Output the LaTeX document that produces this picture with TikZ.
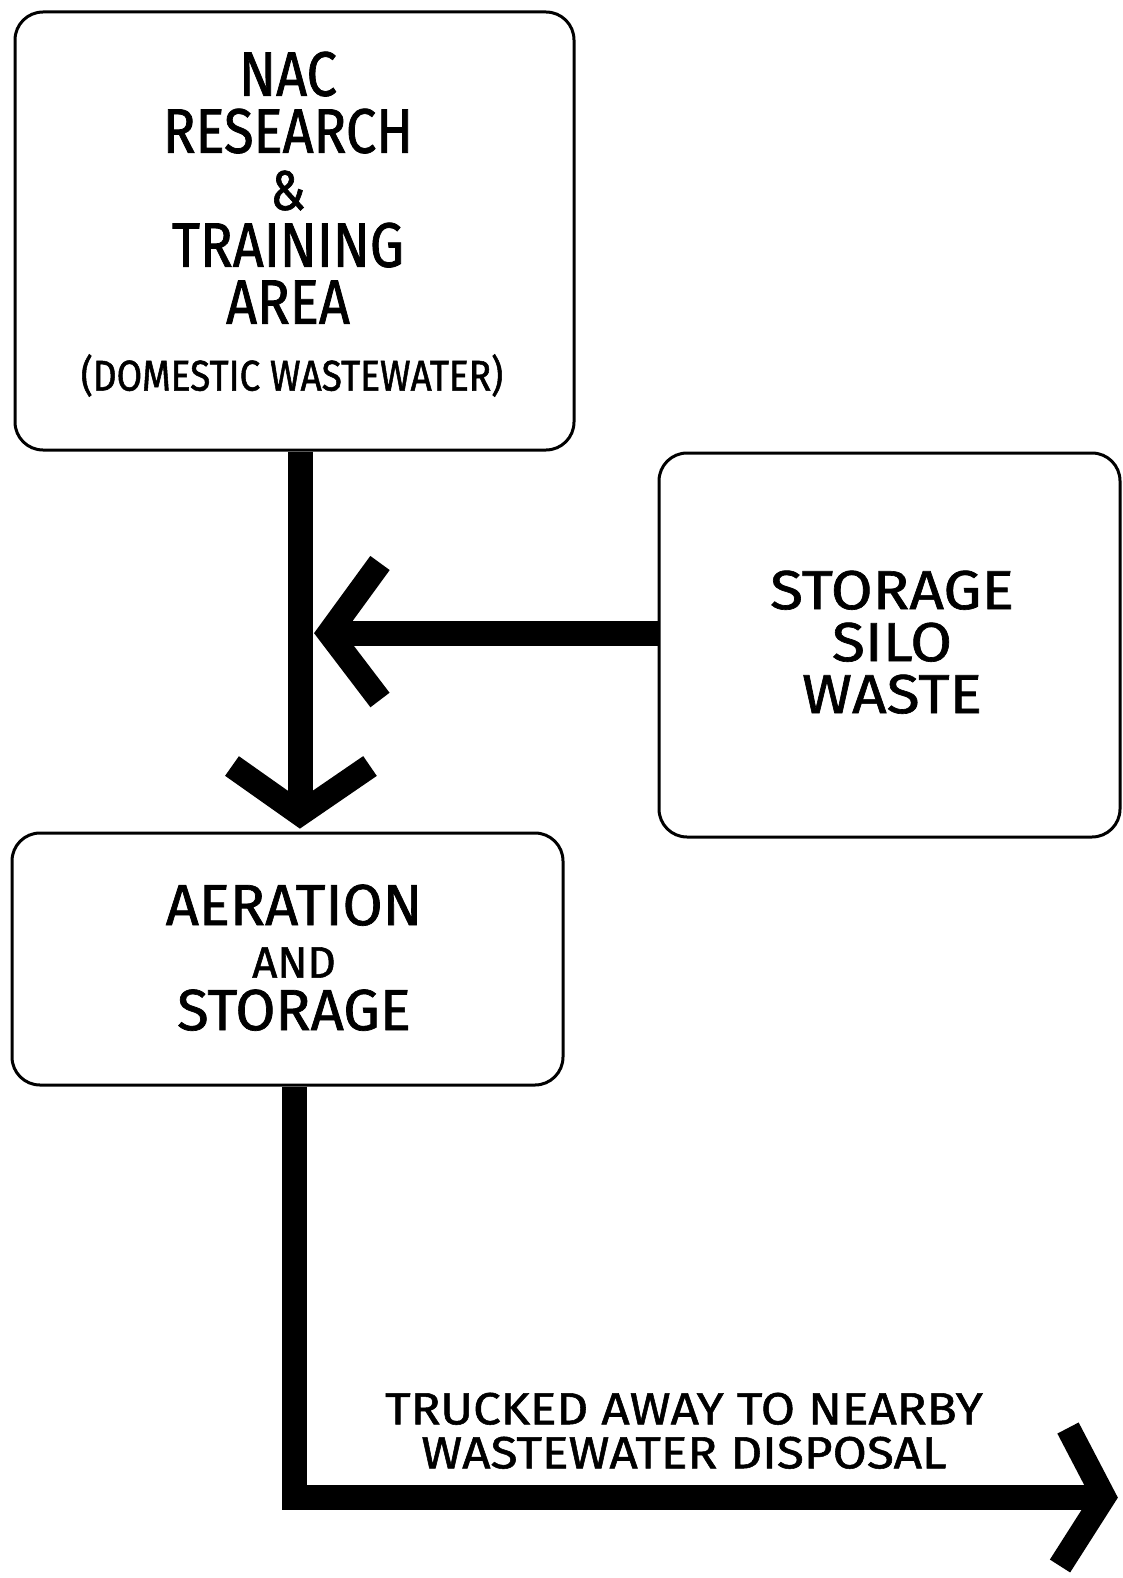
\documentclass[tikz,border=0pt]{standalone}
\usepackage{fontspec}
\newfontfamily\handn{Fira Sans}[FakeStretch=0.86,FakeBold=1.2]
\newfontfamily\hand{Fira Sans}[FakeBold=1.2]
\newfontfamily\handw{Fira Sans}[FakeStretch=1.1,FakeBold=1.2]
\tikzset{
  box/.style={draw, line width=3pt, rounded corners=28pt, inner sep=0pt},
  flow/.style={line width=25pt, line cap=butt, line join=miter, miter limit=10},
  chev/.style={line width=24pt, line cap=butt, line join=miter, miter limit=10},
  txt/.style={inner sep=0pt, align=center, anchor=south},
}
\begin{document}
\begin{tikzpicture}[x=1pt,y=-1pt]
\useasboundingbox[fill=white] (0,0) rectangle (1123,1578);

% boxes
\node[box, minimum width=559pt, minimum height=438pt] (src) at (294.5,231) {};
\node[box, minimum width=461pt, minimum height=384pt] (silo) at (889.5,645) {};
\node[box, minimum width=551pt, minimum height=252pt] (tank) at (287.5,959) {};

% box 1 text
\node[txt, font=\handn\fontsize{63}{57}\selectfont] (t1) at (288,324)
  {NAC\\RESEARCH\\{\fontsize{56}{57}\selectfont\&}\\TRAINING\\AREA};
\node[txt, font=\handn\fontsize{43}{43}\selectfont] (t1f) at (292,397) {(DOMESTIC WASTEWATER)};

% box 2 text
\node[txt, font=\handw\fontsize{55}{52}\selectfont] (t2) at (892,714) {STORAGE\\SILO\\WASTE};

% box 3 text
\node[txt, font=\hand\fontsize{58}{52.5}\selectfont] (t3) at (294,1031)
  {AERATION\\{\fontsize{44}{52.5}\selectfont AND}\\STORAGE};

% bottom label
\node[txt, font=\handw\fontsize{45}{44}\selectfont] (lb) at (684,1469)
  {TRUCKED AWAY TO NEARBY\\WASTEWATER DISPOSAL};

% connector 1: source down to tank
\coordinate (v1) at (300,814);
\coordinate (v1l) at (232,766);
\coordinate (v1r) at (370,766);
\draw[flow] (src.south -| v1) -- (v1);
\draw[chev] (v1l) -- (v1) -- (v1r);

% connector 2: silo left into vertical line
\coordinate (v2) at (329,633);
\coordinate (v2u) at (380,563);
\coordinate (v2d) at (380,700);
\draw[flow] (silo.west |- v2) -- (v2);
\draw[chev] (v2u) -- (v2) -- (v2d);

% connector 3: tank down and right
\coordinate (v3a) at (294,1497);
\coordinate (v3) at (1104,1497);
\coordinate (v3u) at (1068,1428);
\coordinate (v3d) at (1060,1566);
\draw[flow] (tank.south -| v3a) -- (v3a) -- (v3);
\draw[chev] (v3u) -- (v3) -- (v3d);
\end{tikzpicture}
\end{document}
